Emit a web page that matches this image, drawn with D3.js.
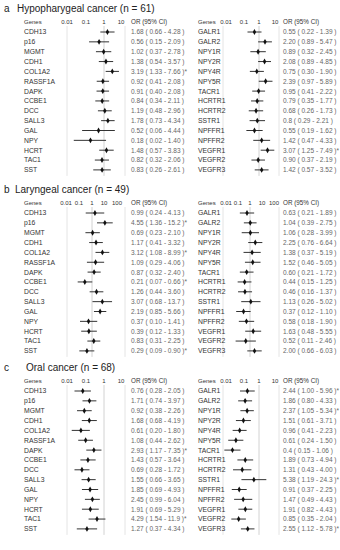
<!DOCTYPE html>
<html>
<head>
<meta charset="utf-8">
<script src="https://cdn.jsdelivr.net/npm/d3@7"></script>
<style>
body { margin: 0; background: #fff; }
text { font-family: "Liberation Sans", Arial, sans-serif; }
</style>
</head>
<body>
<div id="chart"></div>
<script>
// genes (iguales en los tres paneles)
const genesIzq = ["CDH13","p16","MGMT","CDH1","COL1A2","RASSF1A","DAPK","CCBE1","DCC","SALL3","GAL","NPY","HCRT","TAC1","SST"]
const genesDer = ["GALR1","GALR2","NPY1R","NPY2R","NPY4R","NPY5R","TACR1","HCRTR1","HCRTR2","SSTR1","NPFFR1","NPFFR2","VEGFR1","VEGFR2","VEGFR3"]

// a - hipofaringe
const orHipoIzq  = ["1.68","0.56","1.02","1.38","3.19","0.92","0.91","0.84","1.19","1.78","0.52","0.18","1.48","0.82","0.83"]
const infHipoIzq = ["0.66","0.15","0.37","0.54","1.33","0.41","0.40","0.34","0.48","0.73","0.06","0.02","0.57","0.32","0.26"]
const supHipoIzq = ["4.28","2.09","2.78","3.57","7.66","2.08","2.08","2.11","2.96","4.34","4.44","1.40","3.83","2.06","2.61"]
const orHipoDer  = ["0.55","2.20","0.89","2.08","0.75","2.39","0.95","0.79","0.68","0.8","0.55","1.42","3.07","0.90","1.42"]
const infHipoDer = ["0.22","0.89","0.32","0.89","0.30","0.97","0.41","0.35","0.26","0.29","0.19","0.47","1.25","0.37","0.57"]
const supHipoDer = ["1.39","5.47","2.45","4.85","1.90","5.89","2.22","1.77","1.73","2.21","1.62","4.33","7.49","2.19","3.52"]
const sigHipo = ["COL1A2","VEGFR1"]

// b - laringe
const orLarIzq  = ["0.99","4.55","0.69","1.17","3.12","1.09","0.87","0.21","1.26","3.07","2.19","0.37","0.39","0.83","0.29"]
const infLarIzq = ["0.24","1.36","0.23","0.41","1.08","0.29","0.32","0.07","0.44","0.68","0.85","0.10","0.12","0.31","0.09"]
const supLarIzq = ["4.13","15.2","2.10","3.32","8.99","4.06","2.40","0.66","3.60","13.7","5.66","1.41","1.33","2.25","0.90"]
const orLarDer  = ["0.63","1.04","1.06","2.25","1.38","1.52","0.60","0.44","0.46","1.13","0.37","0.58","1.63","0.52","2.00"]
const infLarDer = ["0.21","0.39","0.28","0.76","0.37","0.46","0.21","0.15","0.16","0.26","0.12","0.18","0.48","0.11","0.66"]
const supLarDer = ["1.89","2.75","3.99","6.64","5.19","5.05","1.72","1.25","1.37","5.02","1.10","1.90","5.55","2.46","6.03"]
const sigLar = ["p16","COL1A2","CCBE1","SST"]

// c - oral
const orOralIzq  = ["0.76","1.71","0.92","1.68","0.61","1.08","2.93","1.43","0.69","1.55","1.85","2.45","1.91","4.29","1.27"]
const infOralIzq = ["0.28","0.74","0.38","0.68","0.20","0.44","1.17","0.57","0.28","0.66","0.69","0.99","0.69","1.54","0.37"]
const supOralIzq = ["2.05","3.97","2.26","4.19","1.80","2.62","7.35","3.64","1.72","3.65","4.93","6.04","5.29","11.9","4.34"]
const orOralDer  = ["2.44","1.86","2.37","1.51","0.96","0.61","0.4","1.89","1.31","5.38","0.91","1.47","1.91","0.85","2.55"]
const infOralDer = ["1.00","0.80","1.05","0.61","0.41","0.24","0.15","0.73","0.43","1.19","0.37","0.49","0.82","0.35","1.12"]
const supOralDer = ["5.96","4.33","5.34","3.71","2.23","1.50","1.06","4.94","4.00","24.3","2.25","4.43","4.43","2.04","5.78"]
const sigOral = ["DAPK","TAC1","GALR1","NPY1R","SSTR1","VEGFR3"]

const ticksAC = ["0.01","0.1","1","10"]
const ticksB  = ["0.01","0.1","1","10","100"]

// ----------------------------------------------------------

const ancho = 340
const alto = 550
const paso = 9.85

const svg = d3.select("#chart").append("svg").attr("width", ancho).attr("height", alto)

// columnas: x de genes, marco del grafico, x de texto OR
const columnas = [
    { genes: 24, marco: [67, 125], texto: 131 },
    { genes: 198, marco: [223, 279], texto: 283 }
]

const paneles = [
    { letra: "a", titulo: "Hypopharygeal cancer (n = 61)", y0: 8, xTit: 17, ticks: ticksAC,
      mitades: [
        { or: orHipoIzq, inf: infHipoIzq, sup: supHipoIzq, genes: genesIzq, tickX: [67, 86, 104, 121], uno: 103.5, dec: 17.5 },
        { or: orHipoDer, inf: infHipoDer, sup: supHipoDer, genes: genesDer, tickX: [226, 244, 259, 275], uno: 259, dec: 17.5 }
      ], sig: sigHipo },
    { letra: "b", titulo: "Laryngeal cancer (n = 49)", y0: 189, xTit: 15, ticks: ticksB,
      mitades: [
        { or: orLarIzq, inf: infLarIzq, sup: supLarIzq, genes: genesIzq, tickX: [66, 79, 92, 104, 117], uno: 95, dec: 15 },
        { or: orLarDer, inf: infLarDer, sup: supLarDer, genes: genesDer, tickX: [226, 238, 250, 262, 274], uno: 250, dec: 15 }
      ], sig: sigLar },
    { letra: "c", titulo: "Oral cancer (n = 68)", y0: 367, xTit: 26, ticks: ticksAC,
      mitades: [
        { or: orOralIzq, inf: infOralIzq, sup: supOralIzq, genes: genesIzq, tickX: [67, 86, 104, 121], uno: 85, dec: 19 },
        { or: orOralDer, inf: infOralDer, sup: supOralDer, genes: genesDer, tickX: [226, 244, 259, 275], uno: 240, dec: 19 }
      ], sig: sigOral }
]

paneles.forEach(p => {
    const g = svg.append("g")

    g.append("text").attr("x", 4).attr("y", p.y0 + 3.5)
        .attr("font-size", 10).attr("fill", "#222").text(p.letra)
    g.append("text").attr("x", p.xTit).attr("y", p.y0 + 3.5)
        .attr("font-size", 10).attr("fill", "#222").text(p.titulo)

    const yCab = p.y0 + 13
    const y = d3.scalePoint().domain(d3.range(15)).range([p.y0 + 24, p.y0 + 24 + paso * 14])

    p.mitades.forEach((m, k) => {
        const col = columnas[k]
        const gm = g.append("g")

        // etiquetas del eje (colocadas a mano en la figura original)
        const xTick = d3.scaleLog().domain(p.ticks.map(t => +t)).range(m.tickX)
        // escala de los datos
        const x = d3.scaleLog().domain([1, 10]).range([m.uno, m.uno + m.dec])

        const top = yCab + 5
        const bottom = y(14) + 6

        // lineas verticales
        gm.selectAll("line.marco").data(col.marco).enter().append("line")
            .attr("x1", d => d).attr("x2", d => d)
            .attr("y1", top).attr("y2", bottom)
            .attr("stroke", "#e4e4e4").attr("stroke-width", 1)
        gm.append("line")
            .attr("x1", xTick(1)).attr("x2", xTick(1))
            .attr("y1", top).attr("y2", bottom)
            .attr("stroke", "#d2d2d2").attr("stroke-width", 1)

        // cabecera
        gm.append("text").attr("x", col.genes).attr("y", yCab + 2.5)
            .attr("font-size", 6).attr("fill", "#333").text("Genes")
        gm.selectAll("text.tick").data(p.ticks).enter().append("text")
            .attr("x", d => xTick(+d)).attr("y", yCab + 2.5)
            .attr("text-anchor", "middle")
            .attr("font-size", 6).attr("fill", "#333").text(d => d)
        gm.append("text").attr("x", col.texto).attr("y", yCab + 2.5)
            .attr("font-size", 6.3).attr("fill", "#333").text("OR (95% CI)")

        const filas = m.genes.map((gen, i) => ({
            gen: gen, or: m.or[i], inf: m.inf[i], sup: m.sup[i], i: i
        }))

        const fila = gm.selectAll("g.fila").data(filas).enter().append("g")
            .attr("transform", d => `translate(0, ${y(d.i)})`)

        fila.append("text").attr("x", col.genes).attr("y", 2.4)
            .attr("font-size", 6.8).attr("fill", "#333").text(d => d.gen)

        fila.append("line")
            .attr("x1", d => x(+d.inf)).attr("x2", d => x(+d.sup))
            .attr("y1", 0).attr("y2", 0)
            .attr("stroke", "#333").attr("stroke-width", 1)

        fila.append("path")
            .attr("d", d3.symbol().type(d3.symbolDiamond).size(10))
            .attr("transform", d => `translate(${x(+d.or)}, 0)`)
            .attr("fill", "#111")

        fila.append("text").attr("x", col.texto).attr("y", 2.4)
            .attr("font-size", 6.5).attr("fill", "#666")
            .style("white-space", "pre")
            .text(d => `${d.or} ( ${d.inf} - ${d.sup} )` + (p.sig.includes(d.gen) ? "*" : ""))
    })
})
</script>
</body>
</html>
